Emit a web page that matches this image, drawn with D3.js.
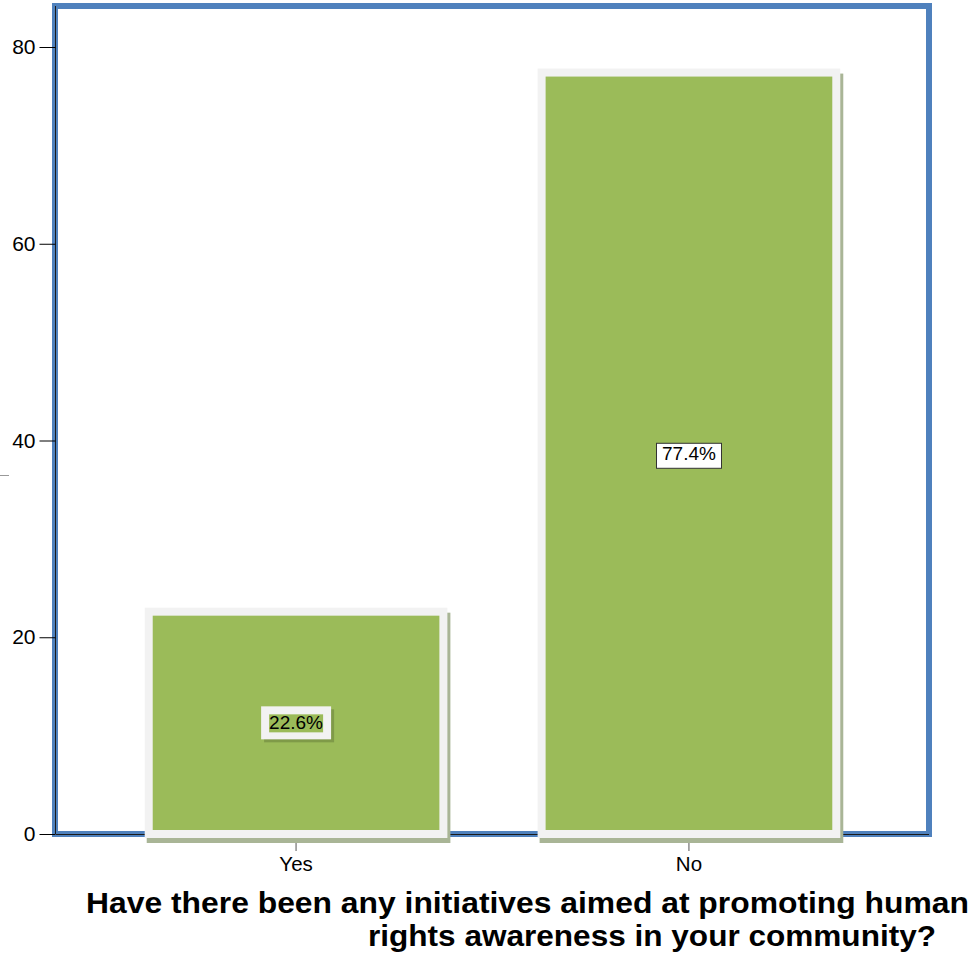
<!DOCTYPE html>
<html>
<head>
<meta charset="utf-8">
<script src="https://cdn.jsdelivr.net/npm/d3@7"></script>
<style>
  html, body { margin: 0; padding: 0; background: #fff; }
  svg { display: block; font-family: "Liberation Sans", Arial, sans-serif; }
</style>
</head>
<body>
<svg id="chart" width="973" height="956"></svg>
<script>
// Survey answers and their share of respondents (percent)
const categories = ["Yes", "No"];
const percentValues = [22.6, 77.4];
const yTicks = [0, 20, 40, 60, 80];
const titleLines = [
  "Have there been any initiatives aimed at promoting human",
  "rights awareness in your community?"
];

const svg = d3.select("#chart");

const plot = { left: 56, right: 929, top: 6, bottom: 834 };

const x = d3.scaleBand()
  .domain(categories)
  .range([plot.left, plot.right])
  .paddingInner(0.25)
  .paddingOuter(0.236);

const y = d3.scaleLinear()
  .domain([0, 80])
  .range([plot.bottom, 47]);

// Blue plot frame
svg.append("rect")
  .attr("x", plot.left - 1)
  .attr("y", plot.top)
  .attr("width", plot.right - plot.left + 1)
  .attr("height", plot.bottom - plot.top)
  .attr("fill", "none")
  .attr("stroke", "#4F81BD")
  .attr("stroke-width", 6);

// Axis lines
svg.append("line")
  .attr("x1", plot.left - 0.5).attr("x2", plot.left - 0.5)
  .attr("y1", plot.top).attr("y2", plot.bottom)
  .attr("stroke", "#1a1a1a").attr("stroke-width", 1);
svg.append("line")
  .attr("x1", plot.left).attr("x2", plot.right)
  .attr("y1", plot.bottom + 0.5).attr("y2", plot.bottom + 0.5)
  .attr("stroke", "#1a1a1a").attr("stroke-width", 1);

// Y axis
const yAxis = d3.axisLeft(y)
  .tickValues(yTicks)
  .tickSize(16)
  .tickPadding(4)
  .tickFormat(d3.format("d"));
const gy = svg.append("g")
  .attr("transform", `translate(${plot.left - 0.5},0)`)
  .call(yAxis);
gy.select(".domain").remove();
gy.selectAll(".tick line").attr("stroke", "#000");
gy.selectAll(".tick text")
  .attr("font-size", 21)
  .attr("font-family", "Liberation Sans, Arial, sans-serif")
  .attr("fill", "#000");

// X axis
const xAxis = d3.axisBottom(x).tickSize(17).tickPadding(5);
const gx = svg.append("g")
  .attr("transform", `translate(0,${plot.bottom})`)
  .call(xAxis);
gx.select(".domain").remove();
gx.selectAll(".tick line").attr("stroke", "#555");
gx.selectAll(".tick text")
  .attr("font-size", 20.5)
  .attr("font-family", "Liberation Sans, Arial, sans-serif")
  .attr("fill", "#000");

const rows = categories.map((c, i) => ({ cat: c, value: percentValues[i] }));

// Bar shadows
svg.append("g").selectAll("rect")
  .data(rows)
  .join("rect")
  .attr("x", d => x(d.cat) - 2)
  .attr("y", d => y(d.value) + 1)
  .attr("width", x.bandwidth() + 9)
  .attr("height", d => y(0) - y(d.value) + 8)
  .attr("fill", "#A9B596");

// Bars with a light frame
svg.append("g").selectAll("rect")
  .data(rows)
  .join("rect")
  .attr("x", d => x(d.cat))
  .attr("y", d => y(d.value))
  .attr("width", x.bandwidth())
  .attr("height", d => y(0) - y(d.value))
  .attr("fill", "#9BBB59")
  .attr("stroke", "#F2F2F2")
  .attr("stroke-width", 8);

// Value labels
const fmt = v => v.toFixed(1) + "%";
rows.forEach((d, i) => {
  const cx = x(d.cat) + x.bandwidth() / 2;
  const cy = y(d.value / 2);
  const g = svg.append("g");
  const t = g.append("text")
    .attr("x", cx).attr("y", cy)
    .attr("text-anchor", "middle")
    .attr("dominant-baseline", "central")
    .attr("font-size", 19)
    .attr("fill", "#000")
    .text(fmt(d.value));
  const bb = t.node().getBBox();
  if (i === 0) {
    // highlighted label: shadow, light frame, green text field
    g.insert("rect", "text")
      .attr("x", bb.x - 8 + 3).attr("y", bb.y - 6 + 3)
      .attr("width", bb.width + 16).attr("height", bb.height + 12)
      .attr("fill", "#7F9A48");
    g.insert("rect", "text")
      .attr("x", bb.x - 8).attr("y", bb.y - 6)
      .attr("width", bb.width + 16).attr("height", bb.height + 12)
      .attr("fill", "#F2F2F2");
    g.insert("rect", "text")
      .attr("x", bb.x).attr("y", bb.y + 2)
      .attr("width", bb.width).attr("height", bb.height - 3)
      .attr("fill", "#9BBB59");
  } else {
    g.insert("rect", "text")
      .attr("x", bb.x - 5.5).attr("y", bb.y + 0.5)
      .attr("width", bb.width + 11).attr("height", bb.height + 4)
      .attr("fill", "#fff")
      .attr("stroke", "#333")
      .attr("stroke-width", 1);
  }
});

// Stray marker at the left edge
svg.append("line")
  .attr("x1", 0).attr("x2", 9)
  .attr("y1", 475.5).attr("y2", 475.5)
  .attr("stroke", "#999").attr("stroke-width", 1);

// Axis title
svg.append("text")
  .attr("x", 86).attr("y", 913)
  .attr("font-size", 29).attr("font-weight", "bold")
  .attr("textLength", 883).attr("lengthAdjust", "spacingAndGlyphs")
  .attr("fill", "#000")
  .text(titleLines[0]);
svg.append("text")
  .attr("x", 936).attr("y", 946)
  .attr("text-anchor", "end")
  .attr("font-size", 29).attr("font-weight", "bold")
  .attr("textLength", 568).attr("lengthAdjust", "spacingAndGlyphs")
  .attr("fill", "#000")
  .text(titleLines[1]);
</script>
</body>
</html>
